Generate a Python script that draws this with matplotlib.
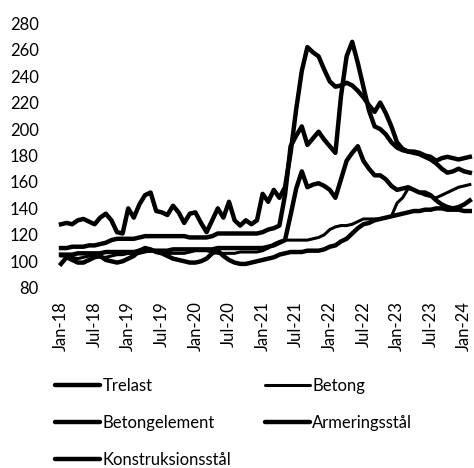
import matplotlib.pyplot as plt

plt.rcParams['font.family'] = ['Lato', 'DejaVu Sans']

# Monthly index values, Jan-18 .. Feb-24
months = list(range(74))
tick_pos = list(range(0, 73, 6))
tick_labels = ['Jan-18', 'Jul-18', 'Jan-19', 'Jul-19', 'Jan-20', 'Jul-20', 'Jan-21',
               'Jul-21', 'Jan-22', 'Jul-22', 'Jan-23', 'Jul-23', 'Jan-24']

trelast = [128, 129, 128, 131, 132, 130, 128, 133, 136, 131, 122, 121,
           140, 133, 143, 150, 152, 138, 137, 135, 142, 137, 129, 136,
           137, 129, 122, 131, 140, 133, 145, 131, 127, 131, 128, 131,
           151, 145, 154, 148, 156, 182, 215, 244, 262, 258, 255, 245,
           236, 232, 233, 235, 233, 229, 224, 218, 213, 220, 212, 202,
           190, 185, 183, 183, 182, 180, 179, 176, 178, 179, 178, 177,
           178, 179]
betong = [104, 104, 103, 102, 103, 104, 104, 103, 103, 104, 105, 105,
          106, 105, 106, 107, 108, 107, 106, 106, 106, 106, 106, 107,
          108, 108, 108, 107, 106, 106, 106, 106, 107, 107, 107, 107,
          108, 110, 113, 115, 116, 116, 116, 116, 116, 117, 118, 120,
          124, 126, 127, 127, 128, 130, 132, 132, 132, 132, 133, 134,
          144, 148, 155, 154, 152, 150, 149, 148, 150, 152, 154, 156,
          157, 158]
betongelement = [98, 103, 101, 99, 99, 101, 103, 104, 101, 100, 99, 100,
                 102, 104, 108, 110, 109, 107, 106, 104, 102, 101, 100, 99,
                 99, 100, 102, 106, 108, 104, 101, 99, 98, 98, 99, 100,
                 101, 102, 103, 105, 106, 107, 107, 107, 108, 108, 108, 109,
                 111, 112, 115, 117, 121, 125, 128, 129, 131, 132, 133, 134,
                 135, 136, 137, 138, 138, 139, 139, 140, 140, 139, 139, 139,
                 138, 138]
armeringsstaal = [110, 110, 111, 111, 111, 112, 112, 113, 114, 116, 117, 117,
                  117, 117, 118, 119, 119, 119, 119, 119, 119, 119, 119, 118,
                  118, 118, 118, 119, 121, 121, 121, 121, 121, 121, 121, 121,
                  122, 124, 125, 127, 150, 187, 195, 202, 188, 193, 198, 192,
                  187, 182, 225, 255, 266, 250, 232, 214, 202, 200, 196, 190,
                  186, 184, 183, 182, 181, 179, 177, 174, 170, 167, 168, 170,
                  168, 167]
konstruksjonsstaal = [105, 105, 105, 106, 106, 106, 106, 106, 107, 107, 107, 107,
                      107, 107, 108, 108, 108, 108, 108, 108, 109, 109, 109, 109,
                      109, 109, 109, 109, 110, 110, 110, 110, 110, 110, 110, 110,
                      110, 111, 112, 114, 116, 135, 155, 168, 156, 158, 159, 157,
                      154, 148, 162, 176, 182, 187, 176, 170, 165, 165, 162, 157,
                      154, 155, 156, 154, 152, 152, 150, 146, 143, 141, 140, 141,
                      143, 146]

fig = plt.figure(figsize=(4.74, 4.68), dpi=100)
ax = fig.add_axes([58.2 / 474, 1 - 287.7 / 468, 414.4 / 474, 264.4 / 468])

h_tre, = ax.plot(months, trelast, color='black', lw=3.2, label='Trelast')
h_bet, = ax.plot(months, betong, color='black', lw=2.2, label='Betong')
h_bel, = ax.plot(months, betongelement, color='black', lw=3.2, label='Betongelement')
h_arm, = ax.plot(months, armeringsstaal, color='black', lw=3.2, label='Armeringsstål')
h_kon, = ax.plot(months, konstruksjonsstaal, color='black', lw=3.2, label='Konstruksionsstål')

ax.set_xlim(-0.5, 73.5)
ax.set_ylim(80, 280)
ax.set_yticks(range(80, 281, 20))
ax.set_xticks(tick_pos)
ax.set_xticklabels(tick_labels, rotation=90)
ax.tick_params(axis='both', length=0, labelsize=12)
ax.tick_params(axis='x', pad=10)
ax.tick_params(axis='y', pad=14)
for s in ax.spines.values():
    s.set_visible(False)

# column-wise fill so rows read Trelast/Betong, Betongelement/Armeringsstål, ...
handles = [h_tre, h_bel, h_kon, h_bet, h_arm]
leg = fig.legend(handles=handles, labels=[h.get_label() for h in handles],
                 loc='upper left', bbox_to_anchor=(55 / 474, 1 - 378 / 468),
                 ncol=2, frameon=False, fontsize=12, handlelength=2.7,
                 handletextpad=0.15, columnspacing=2.0, labelspacing=1.25,
                 borderpad=0, borderaxespad=0)
for ln in leg.get_lines():
    ln.set_solid_capstyle('round')

fig.savefig('out.png', dpi=100)
